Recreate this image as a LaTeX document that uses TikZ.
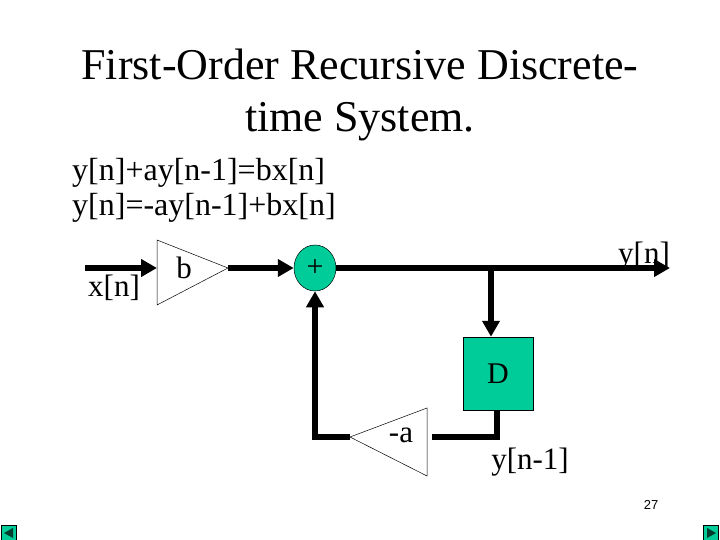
\documentclass[tikz,border=0pt]{standalone}
\usepackage{fontspec}
\setmainfont{Liberation Serif}
\setsansfont{Liberation Sans}
\usetikzlibrary{arrows.meta,shapes.geometric}
\definecolor{tealg}{RGB}{0,204,153}
\begin{document}
\begin{tikzpicture}[x=1pt,y=-1pt,
  sig/.style={line width=6pt,-{Triangle[length=16pt,width=17pt]}},
  wire/.style={line width=6pt},
  tri/.style={draw,line width=0.5pt},
  lbl/.style={font=\fontsize{31}{33}\selectfont,inner sep=0pt},
  eq/.style={font=\fontsize{32}{34}\selectfont,inner sep=0pt}]
\useasboundingbox (0,0) rectangle (720,540);
\node[font=\fontsize{44}{52}\selectfont,align=center] (title) at (360,95) {First-Order Recursive Discrete-\\time System.};
\node[eq,anchor=west] (eq1) at (72,173) {y[n]+ay[n-1]=bx[n]};
\node[eq,anchor=west] (eq2) at (72,208) {y[n]=-ay[n-1]+bx[n]};
% gain b
\draw[tri] (157,240) -- (157,305) -- (228,268) -- cycle;
\coordinate (bin) at (157,268);
\coordinate (bout) at (228,268);
\node[lbl] (b) at (184,268) {b};
\coordinate (xin) at (85,268);
\node[lbl] (x) at (114,288) {x[n]};
\draw[sig] (xin) -- (bin);
% sum
\node[draw=black,fill=tealg,ellipse,minimum width=42pt,minimum height=46pt,inner sep=0pt,line width=0.5pt,font=\fontsize{30}{32}\selectfont] (sum) at (315,268) {+};
\draw[sig] (bout) -- (sum.west);
\coordinate (yout) at (670,268);
\coordinate (br) at (491,268);
\draw[sig] (sum.east) -- (yout);
\node[lbl] (yn) at (644,256) {y[n]};
% delay
\node[draw=black,fill=tealg,minimum width=70pt,minimum height=73pt,inner sep=0pt,line width=0.5pt,font=\fontsize{30}{32}\selectfont] (D) at (498,373.5) {D};
\draw[sig] (br) -- (br|-D.north);
% -a gain
\draw[tri] (427,408) -- (427,476) -- (350,437) -- cycle;
\node[lbl] (a) at (401,435) {-a};
\coordinate (ain) at (432,437);
\coordinate (aout) at (350,437);
\coordinate (dl) at (497,437);
\draw[wire] (D.south -| dl) -- (dl) -- (ain);
\coordinate (cl) at (315,437);
\draw[sig] (aout) -- (cl) -- (sum.south);
\node[lbl] (yn1) at (530,462) {y[n-1]};
\node[font=\sffamily\fontsize{13}{15}\selectfont] (pg) at (651,505) {27};
% nav buttons
\node[draw=black,fill=tealg,minimum size=15pt,inner sep=0pt] (nl) at (9,533) {};
\fill[black!70!tealg] (nl.center)++(-5,0) -- ++(9,-5) -- ++(0,10) -- cycle;
\node[draw=black,fill=tealg,minimum size=15pt,inner sep=0pt] (nr) at (711,533) {};
\fill[black!70!tealg] (nr.center)++(5,0) -- ++(-9,-5) -- ++(0,10) -- cycle;
\end{tikzpicture}
\end{document}
